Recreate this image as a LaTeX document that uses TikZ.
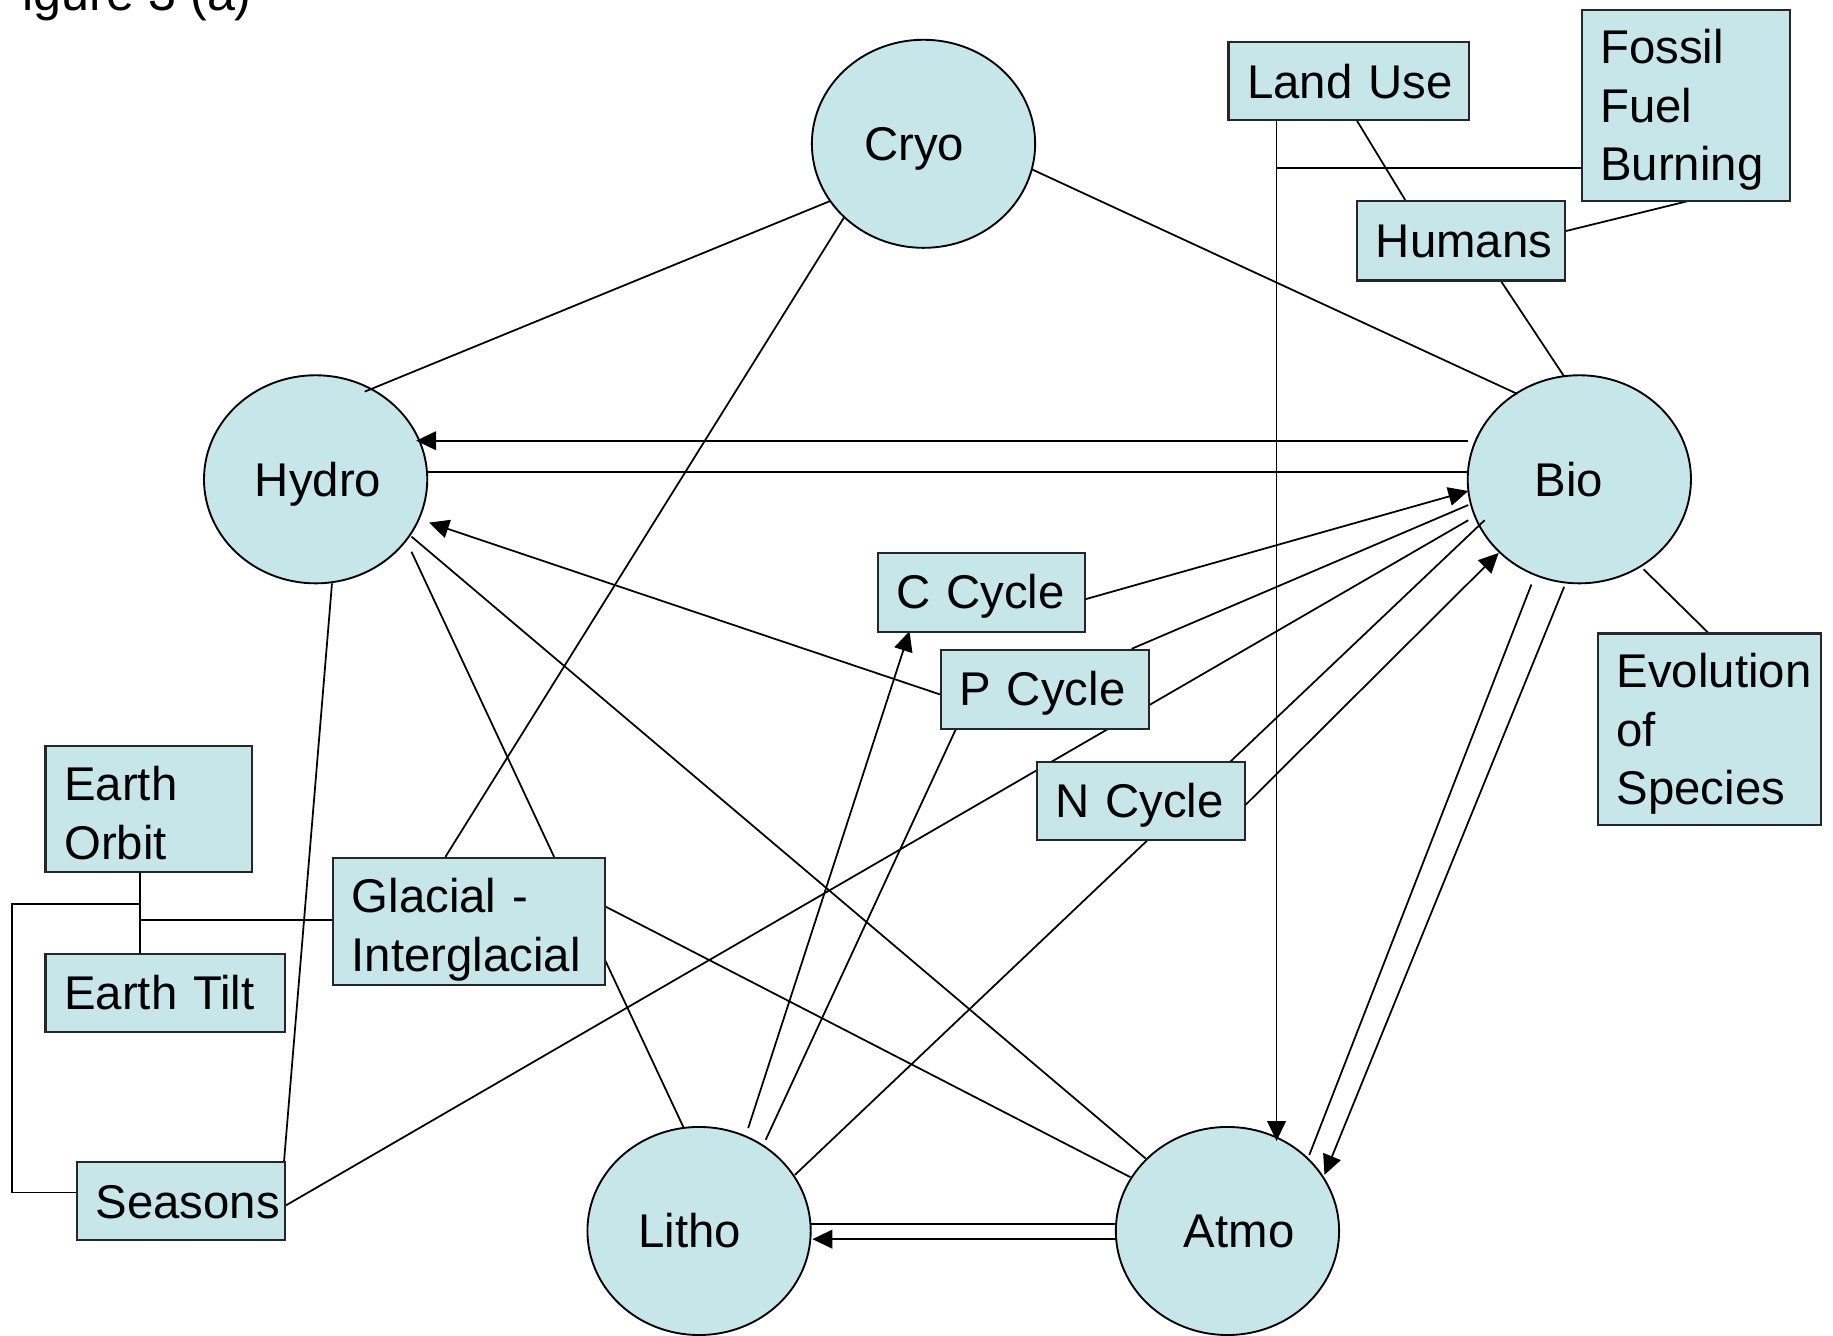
\documentclass[tikz,border=0pt]{standalone}
\usepackage{fontspec}
\setmainfont{Liberation Sans}
\usetikzlibrary{shapes.geometric,arrows.meta,calc}
\definecolor{cellfill}{RGB}{199,230,233}
\hyphenpenalty=10000
\exhyphenpenalty=10000
\pgfdeclarelayer{orbs}
\pgfdeclarelayer{links}
\pgfsetlayers{orbs,links,main}
\newcommand\diagfont{\fontsize{20.25pt}{25pt}\selectfont}
% rectangle from (x1,y1) to (x2,y2), text set flush left;
% #7 lowers the text block by half its value
\newcommand\placebox[7]{%
  \pgfmathsetmacro\bxw{(#4-#2)/2}%
  \pgfmathsetmacro\bxh{(#5-#3)/2}%
  \pgfmathsetmacro\bxt{\bxw-16}%
  \node[box, minimum width=\bxw pt, minimum height=\bxh pt, text width=\bxt pt] (#1) at (#2,#3)
    {\rule{0pt}{\dimexpr 18pt+#7\relax}#6\rule[-3.5pt]{0pt}{0pt}};%
}
\begin{document}
\begin{tikzpicture}[x=0.5pt,y=-0.5pt,
  box/.style={draw=black!85, line width=0.9pt, fill=cellfill, anchor=north west,
    inner xsep=8pt, inner ysep=0pt, align=left, font=\diagfont},
  orb/.style={ellipse, draw=black, line width=0.8pt, fill=cellfill,
    minimum width=95.5pt, minimum height=89pt, inner sep=0pt},
  orbtext/.style={anchor=base, inner sep=0pt, font=\diagfont},
  link/.style={draw=black, line width=0.75pt},
  arr/.style={link, -{Triangle[length=8.5pt,width=8pt]}}]
\useasboundingbox (0,0) rectangle (1568,1142);

% caption, cut by the top edge
\begin{scope}
  \clip (0,0) rectangle (1568,1142);
  \node[anchor=base west, inner sep=0pt, font=\fontsize{21.5pt}{26pt}\selectfont] (caption) at (19,9) {igure 3 (a)};
\end{scope}

% spheres
\begin{pgfonlayer}{orbs}
  \node[orb] (cryo)  at (790,123)  {};
  \node[orb] (hydro) at (270,410)  {};
  \node[orb] (bio)   at (1351,410) {};
  \node[orb] (litho) at (598,1053) {};
  \node[orb] (atmo)  at (1050,1053) {};
  \node[orbtext] (cryo-label)  at (782,137.5)  {Cryo};
  \node[orbtext] (hydro-label) at (272,424.5)  {Hydro};
  \node[orbtext] (bio-label)   at (1342,424.5) {Bio};
  \node[orbtext] (litho-label) at (590,1067.5) {Litho};
  \node[orbtext] (atmo-label)  at (1060,1067.5) {Atmo};
\end{pgfonlayer}

% drivers and processes
\placebox{landuse}{1050}{35}{1256}{102}{Land~Use}{0pt}
\placebox{fossil}{1352}{8}{1530}{171}{Fossil\\Fuel\\Burning}{0.5pt}
\placebox{humans}{1160}{171}{1338}{239}{Humans}{0pt}
\placebox{ccycle}{750}{472}{927}{540}{C~Cycle}{0pt}
\placebox{pcycle}{804}{555}{982}{623}{P~Cycle}{0pt}
\placebox{ncycle}{886}{651}{1064}{718}{N~Cycle}{0pt}
\placebox{evol}{1366}{541}{1557}{705}{Evolution\\of\\Species}{0.5pt}
\placebox{orbit}{38}{637}{215}{745}{Earth\\Orbit}{3.5pt}
\placebox{glacial}{284}{733}{517}{842}{Glacial~-\\Interglacial}{3.5pt}
\placebox{tilt}{38}{815}{243}{882}{Earth~Tilt}{0pt}
\placebox{seasons}{65}{993}{243}{1060}{Seasons}{0pt}

% connections
\begin{pgfonlayer}{links}
  \draw[link] ($(cryo)+(-80,49)$) -- ($(hydro)+(42,-75)$);
  \draw[link] ($(cryo)+(-68,63)$) -- ($(glacial.north west)+(97,0)$);
  \draw[link] ($(cryo)+(93,22)$) -- ($(bio)+(-53,-73)$);
  \draw[arr]  ($(landuse.north west)+(42,67)$) -- ($(atmo)+(42,-77)$);
  \draw[link] ($(landuse.north west)+(42,109)$) -- ($(fossil.north west)+(0,136)$);
  \draw[link] ($(landuse.north west)+(110,67)$) -- ($(humans.north west)+(42,0)$);
  \draw[link] ($(fossil.north west)+(96,163)$) -- ($(humans.north west)+(178,27)$);
  \draw[link] ($(humans.north west)+(123,68)$) -- ($(bio)+(-13,-88)$);
  \draw[arr]  ($(bio)+(-95,-33)$) -- ($(hydro)+(86,-33)$);
  \draw[link] ($(hydro)+(96,-6)$) -- ($(bio)+(-95,-6)$);
  \draw[arr]  ($(ccycle.north west)+(177,41)$) -- ($(bio)+(-95,10)$);
  \draw[arr]  ($(pcycle.north west)+(0,39)$) -- ($(hydro)+(97,37)$);
  \draw[link] ($(pcycle.north west)+(164,0)$) -- ($(bio)+(-95,22)$);
  \draw[link] ($(seasons.north west)+(178,39)$) -- ($(bio)+(-95,35)$);
  \draw[link] ($(litho)+(82,-48)$) -- ($(bio)+(-81,35)$);
  \draw[arr]  ($(ncycle.north west)+(178,39)$) -- ($(bio)+(-69,63)$);
  \draw[link] ($(bio)+(-41,90)$) -- ($(atmo)+(70,-65)$);
  \draw[arr]  ($(bio)+(-13,92)$) -- ($(atmo)+(83,-48)$);
  \draw[link] ($(bio)+(55,77)$) -- ($(evol.north west)+(95,0)$);
  \draw[link] ($(hydro)+(14,89)$) -- ($(seasons.north west)+(178,0)$);
  \draw[link] ($(hydro)+(82,62)$) -- ($(glacial.north west)+(190,0)$);
  \draw[link] ($(hydro)+(82,49)$) -- ($(atmo)+(-70,-62)$);
  \draw[link] ($(glacial.north west)+(0,54)$) -- ($(orbit.north west)+(82,150)$);
  \draw[link] ($(orbit.north west)+(82,108)$) -- ($(tilt.north west)+(82,0)$);
  \draw[link] ($(orbit.north west)+(82,136)$) -- ++(-110,0) |- ($(seasons.north west)+(0,27)$);
  \draw[link] ($(glacial.north west)+(233,42)$) -- ($(atmo)+(-83,-46)$);
  \draw[link] ($(glacial.north west)+(233,87)$) -- ($(litho)+(-13,-88)$);
  \draw[arr]  ($(litho)+(42,-88)$) -- ($(ccycle.north west)+(28,68)$);
  \draw[link] ($(litho)+(57,-78)$) -- ($(pcycle.north west)+(14,68)$);
  \draw[arr]  ($(atmo)+(-95,7)$) -- ($(litho)+(97,7)$);
  \draw[link] ($(litho)+(96,-6)$) -- ($(atmo)+(-95,-6)$);
\end{pgfonlayer}
\end{tikzpicture}
\end{document}
